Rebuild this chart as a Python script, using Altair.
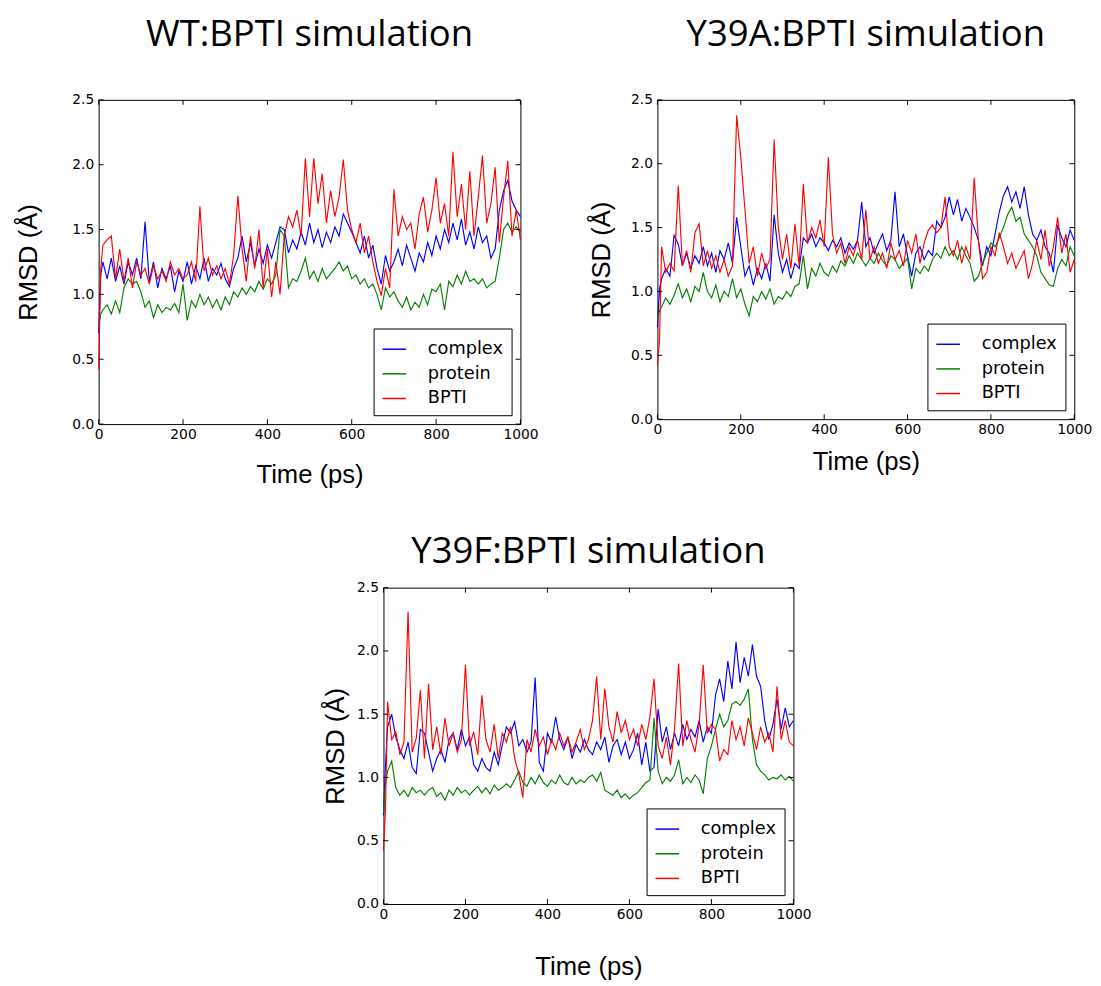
import altair as alt
import pandas as pd

# ---------------- data ----------------
TIME = [0, 5] + list(range(10, 1001, 10))
SERIES = ["complex", "protein", "BPTI"]
COLORS = ["#0000ff", "#008000", "#ff0000"]
X_TICKS = [0, 200, 400, 600, 800, 1000]
Y_TICKS = [0.0, 0.5, 1.0, 1.5, 2.0, 2.5]
TITLES = ["WT:BPTI simulation", "Y39A:BPTI simulation", "Y39F:BPTI simulation"]

WT_COMPLEX = [0.70, 1.15,
    1.25, 1.12, 1.28, 1.10, 1.22, 1.08, 1.25, 1.15, 1.28, 1.12,
    1.56, 1.10, 1.25, 1.05, 1.20, 1.12, 1.22, 1.02, 1.18, 1.10,
    1.25, 1.08, 1.22, 1.12, 1.28, 1.10, 1.20, 1.15, 1.24, 1.12,
    1.06, 1.20, 1.28, 1.45, 1.25, 1.40, 1.22, 1.35, 1.24, 1.38,
    1.28, 1.40, 1.52, 1.50, 1.32, 1.42, 1.35, 1.48, 1.38, 1.55,
    1.40, 1.50, 1.36, 1.48, 1.40, 1.52, 1.45, 1.62, 1.55, 1.48,
    1.40, 1.32, 1.45, 1.28, 1.38, 1.20, 1.08, 1.30, 1.18, 1.25,
    1.35, 1.22, 1.38, 1.28, 1.18, 1.32, 1.25, 1.40, 1.30, 1.45,
    1.35, 1.50, 1.40, 1.55, 1.42, 1.58, 1.38, 1.48, 1.35, 1.52,
    1.40, 1.45, 1.28, 1.35, 1.65, 1.80, 1.88, 1.72, 1.65, 1.60]
WT_PROTEIN = [0.75, 0.85,
    0.88, 0.92, 0.85, 0.95, 0.86, 1.05, 1.12, 1.08, 1.10, 1.02,
    0.90, 0.95, 0.82, 0.92, 0.86, 0.90, 0.88, 0.93, 0.86, 1.08,
    0.80, 0.95, 0.90, 1.00, 0.92, 0.98, 0.90, 0.96, 0.88, 0.98,
    0.92, 1.02, 0.98, 1.05, 1.00, 1.06, 1.02, 1.10, 1.04, 1.12,
    1.08, 1.15, 1.50, 1.45, 1.05, 1.12, 1.10, 1.18, 1.28, 1.12,
    1.18, 1.10, 1.20, 1.12, 1.16, 1.20, 1.25, 1.18, 1.22, 1.12,
    1.15, 1.08, 1.12, 1.05, 1.08, 1.00, 0.88, 1.05, 0.98, 1.02,
    0.95, 0.90, 0.98, 0.88, 0.94, 0.90, 1.00, 0.92, 1.04, 1.02,
    1.08, 0.88, 1.10, 1.06, 1.15, 1.08, 1.18, 1.10, 1.12, 1.08,
    1.12, 1.05, 1.08, 1.10, 1.28, 1.50, 1.55, 1.48, 1.52, 1.48]
WT_BPTI = [0.42, 1.20,
    1.38, 1.42, 1.45, 1.12, 1.35, 1.10, 1.28, 1.05, 1.25, 1.15,
    1.20, 1.08, 1.22, 1.12, 1.18, 1.10, 1.25, 1.15, 1.20, 1.12,
    1.15, 1.25, 1.10, 1.68, 1.18, 1.28, 1.15, 1.22, 1.12, 1.20,
    1.08, 1.30, 1.76, 1.35, 1.10, 1.45, 1.20, 1.50, 1.05, 1.35,
    0.98, 1.25, 1.00, 1.45, 1.60, 1.52, 1.65, 1.45, 2.05, 1.60,
    2.05, 1.70, 1.93, 1.55, 1.80, 1.60, 1.75, 2.04, 1.65, 1.50,
    1.40, 1.55, 1.32, 1.45, 1.25, 1.10, 0.99, 1.20, 1.05, 1.81,
    1.45, 1.60, 1.50, 1.55, 1.35, 1.62, 1.75, 1.48, 1.65, 1.90,
    1.55, 1.70, 1.45, 2.10, 1.60, 1.85, 1.50, 1.95, 1.45, 1.75,
    2.07, 1.55, 1.70, 1.98, 1.40, 1.75, 2.03, 1.45, 1.65, 1.42]

Y39A_COMPLEX = [0.72, 1.02,
    1.10, 1.18, 1.12, 1.44, 1.37, 1.20, 1.30, 1.18, 1.28, 1.22,
    1.35, 1.20, 1.30, 1.15, 1.32, 1.25, 1.38, 1.22, 1.58, 1.35,
    1.12, 1.20, 1.05, 1.18, 1.10, 1.22, 1.08, 1.60, 1.30, 1.15,
    1.25, 1.10, 1.22, 1.18, 1.42, 1.38, 1.45, 1.35, 1.42, 1.38,
    1.32, 1.40, 1.35, 1.42, 1.30, 1.38, 1.33, 1.40, 1.70, 1.35,
    1.42, 1.30, 1.38, 1.45, 1.32, 1.40, 1.78, 1.35, 1.45, 1.28,
    1.12, 1.30, 1.35, 1.25, 1.32, 1.28, 1.55, 1.50, 1.58, 1.74,
    1.60, 1.72, 1.55, 1.65, 1.58, 1.50, 1.40, 1.20, 1.35, 1.28,
    1.45, 1.62, 1.75, 1.82, 1.70, 1.78, 1.65, 1.82, 1.60, 1.45,
    1.40, 1.48, 1.35, 1.30, 1.15, 1.52, 1.42, 1.35, 1.48, 1.40]
Y39A_PROTEIN = [0.78, 0.85,
    0.88, 0.95, 0.90, 0.97, 1.06, 0.95, 1.02, 0.92, 1.04, 1.00,
    1.15, 1.00, 0.95, 1.05, 0.92, 1.00, 0.96, 1.10, 0.95, 1.02,
    0.90, 0.81, 0.96, 0.92, 1.00, 0.94, 1.02, 0.90, 0.96, 0.94,
    1.00, 0.96, 1.04, 1.06, 1.28, 1.02, 1.18, 1.12, 1.22, 1.15,
    1.12, 1.20, 1.15, 1.24, 1.20, 1.28, 1.22, 1.30, 1.25, 1.20,
    1.26, 1.22, 1.30, 1.24, 1.20, 1.28, 1.25, 1.18, 1.22, 1.26,
    1.02, 1.18, 1.14, 1.20, 1.16, 1.25, 1.30, 1.26, 1.35, 1.28,
    1.32, 1.25, 1.35, 1.28, 1.22, 1.08, 1.12, 1.22, 1.30, 1.38,
    1.35, 1.42, 1.50, 1.60, 1.66, 1.55, 1.58, 1.45, 1.40, 1.35,
    1.28, 1.15, 1.10, 1.05, 1.04, 1.18, 1.25, 1.20, 1.35, 1.28]
Y39A_BPTI = [0.42, 0.62,
    1.35, 1.15, 1.22, 1.16, 1.83, 1.20, 1.32, 1.15, 1.46, 1.53,
    1.20, 1.32, 1.18, 1.28, 1.15, 1.25, 1.12, 1.20, 2.38, 2.05,
    1.64, 1.22, 1.35, 1.12, 1.30, 1.18, 1.25, 2.19, 1.50, 1.25,
    1.45, 1.18, 1.53, 1.20, 1.84, 1.38, 1.50, 1.42, 1.56, 1.35,
    2.05, 1.45, 1.30, 1.38, 1.22, 1.35, 1.28, 1.40, 1.25, 1.64,
    1.25, 1.35, 1.22, 1.30, 1.18, 1.38, 1.25, 1.32, 1.20, 1.40,
    1.30, 1.45, 1.22, 1.38, 1.48, 1.52, 1.46, 1.50, 1.74, 1.35,
    1.28, 1.40, 1.22, 1.35, 1.25, 1.89, 1.40, 1.10, 1.15, 1.35,
    1.28, 1.46, 1.35, 1.22, 1.30, 1.18, 1.25, 1.32, 1.10, 1.22,
    1.40, 1.25, 1.48, 1.20, 1.35, 1.58, 1.30, 1.45, 1.15, 1.25]

Y39F_COMPLEX = [0.70, 1.10,
    1.40, 1.50, 1.32, 1.22, 1.15, 1.28, 1.08, 1.03, 1.38, 1.35,
    1.20, 1.05, 1.15, 1.22, 1.12, 1.30, 1.35, 1.22, 1.38, 1.25,
    1.32, 1.10, 1.05, 1.15, 1.08, 1.05, 1.20, 1.10, 1.26, 1.40,
    1.35, 1.44, 1.25, 1.30, 1.20, 1.28, 1.79, 1.12, 1.05, 1.35,
    1.28, 1.48, 1.30, 1.22, 1.32, 1.15, 1.26, 1.20, 1.30, 1.22,
    1.18, 1.28, 1.22, 1.32, 1.12, 1.25, 1.30, 1.18, 1.28, 1.15,
    1.22, 1.35, 1.10, 1.28, 1.05, 1.08, 1.54, 1.28, 1.40, 1.22,
    1.35, 1.25, 1.42, 1.30, 1.38, 1.32, 1.45, 1.28, 1.40, 1.35,
    1.65, 1.78, 1.60, 1.92, 1.70, 2.07, 1.75, 1.95, 1.80, 2.05,
    1.80, 1.72, 1.45, 1.30, 1.42, 1.62, 1.38, 1.55, 1.40, 1.45]
Y39F_PROTEIN = [0.72, 0.95,
    1.05, 1.13, 0.92, 0.86, 0.90, 0.85, 0.92, 0.88, 0.90, 0.86,
    0.90, 0.92, 0.85, 0.88, 0.82, 0.90, 0.86, 0.92, 0.88, 0.90,
    0.86, 0.90, 0.93, 0.88, 0.92, 0.87, 0.94, 0.90, 0.92, 0.95,
    0.92, 0.98, 1.05, 0.96, 0.93, 1.00, 0.95, 1.02, 0.96, 0.93,
    0.98, 0.95, 1.02, 0.96, 0.94, 1.00, 0.95, 0.98, 0.96, 1.00,
    1.02, 0.97, 1.04, 0.90, 0.88, 0.86, 0.90, 0.84, 0.87, 0.83,
    0.86, 0.88, 0.92, 0.96, 0.98, 1.47, 1.05, 0.95, 1.00, 0.97,
    1.02, 1.14, 0.95, 1.00, 0.96, 1.02, 0.98, 0.87, 1.15, 1.25,
    1.38, 1.50, 1.40, 1.45, 1.58, 1.60, 1.57, 1.62, 1.70, 1.30,
    1.10, 1.05, 1.02, 0.98, 1.00, 0.99, 1.02, 0.98, 1.01, 0.97]
Y39F_BPTI = [0.42, 0.75,
    1.60, 1.30, 1.36, 1.18, 1.28, 2.31, 1.20, 1.31, 1.69, 1.15,
    1.74, 1.22, 1.40, 1.18, 1.47, 1.25, 1.35, 1.20, 1.30, 1.89,
    1.25, 1.36, 1.18, 1.65, 1.30, 1.20, 1.42, 1.15, 1.35, 1.28,
    1.40, 1.15, 1.03, 0.84, 1.30, 1.20, 1.38, 1.25, 1.32, 1.18,
    1.30, 1.22, 1.35, 1.25, 1.32, 1.20, 1.28, 1.38, 1.22, 1.30,
    1.45, 1.80, 1.30, 1.70, 1.40, 1.28, 1.52, 1.35, 1.45, 1.30,
    1.38, 1.25, 1.42, 1.30, 1.48, 1.78, 1.25, 1.15, 1.32, 1.10,
    1.38, 1.90, 1.25, 1.45, 1.30, 1.20, 1.42, 1.89, 1.35, 1.42,
    1.38, 1.13, 1.22, 1.18, 1.45, 1.30, 1.40, 1.25, 1.47, 1.35,
    1.22, 1.40, 1.28, 1.35, 1.20, 1.72, 1.30, 1.45, 1.28, 1.25]


def panel(title, series_vals, w, h, title_offset, ytitle_pad, xtitle_pad):
    rows = []
    for name, vals in zip(SERIES, series_vals):
        for t, v in zip(TIME, vals):
            rows.append({"time": t, "rmsd": v, "series": name})
    df = pd.DataFrame(rows)
    xs = alt.Scale(domain=[0, 1000], nice=False, zero=False)
    ys = alt.Scale(domain=[0, 2.5], nice=False, zero=False)
    x_axis = alt.Axis(title="Time (ps)", values=X_TICKS, format="d", labelFlush=False,
                      labelPadding=4, titlePadding=xtitle_pad, labelOverlap=False)
    y_axis = alt.Axis(title="RMSD (Å)", values=Y_TICKS, format=".1f", labelFlush=False,
                      labelPadding=5, titlePadding=ytitle_pad, labelOverlap=False)

    lines = alt.Chart(df).mark_line(strokeWidth=1.15).encode(
        x=alt.X("time:Q", scale=xs, axis=x_axis),
        y=alt.Y("rmsd:Q", scale=ys, axis=y_axis),
        color=alt.Color(
            "series:N",
            sort=SERIES,
            scale=alt.Scale(domain=SERIES, range=COLORS),
            legend=alt.Legend(
                title=None, orient="bottom-right", offset=9,
                fillColor="white", strokeColor="black", padding=8,
                symbolType="stroke", symbolSize=576, symbolStrokeWidth=1.5,
                labelFont="DejaVu Sans", labelFontSize=18, labelColor="black",
                labelOffset=21, rowPadding=3, cornerRadius=0, labelLimit=200,
            ),
        ),
    )

    xt = pd.DataFrame({"time": X_TICKS})
    yt = pd.DataFrame({"rmsd": Y_TICKS})
    tk = 5
    bottom = alt.Chart(xt).mark_rule(color="black", strokeWidth=1).encode(
        x=alt.X("time:Q", scale=xs, axis=x_axis), y=alt.value(h), y2=alt.value(h - tk))
    top = alt.Chart(xt).mark_rule(color="black", strokeWidth=1).encode(
        x=alt.X("time:Q", scale=xs, axis=x_axis), y=alt.value(0), y2=alt.value(tk))
    left = alt.Chart(yt).mark_rule(color="black", strokeWidth=1).encode(
        y=alt.Y("rmsd:Q", scale=ys, axis=y_axis), x=alt.value(0), x2=alt.value(tk))
    right = alt.Chart(yt).mark_rule(color="black", strokeWidth=1).encode(
        y=alt.Y("rmsd:Q", scale=ys, axis=y_axis), x=alt.value(w), x2=alt.value(w - tk))

    return alt.layer(lines, bottom, top, left, right).properties(
        width=w, height=h,
        title=alt.Title(title, offset=title_offset),
    )


p1 = panel(TITLES[0], [WT_COMPLEX, WT_PROTEIN, WT_BPTI], 428, 329, 40, 31, 20)
p2 = panel(TITLES[1], [Y39A_COMPLEX, Y39A_PROTEIN, Y39A_BPTI], 423, 324, 40, 16, 12)
p3 = panel(TITLES[2], [Y39F_COMPLEX, Y39F_PROTEIN, Y39F_BPTI], 416, 321, 10, 8, 33)

spacer = alt.Chart(pd.DataFrame({"a": [0]})).mark_point(opacity=0).properties(
    width=227, height=10, view=alt.ViewBackground(strokeWidth=0, stroke=None))

top_row = alt.hconcat(p1, p2, spacing=50).resolve_scale(color="independent").resolve_legend(color="independent")
bottom_row = alt.hconcat(spacer, p3, spacing=0).resolve_scale(color="independent").resolve_legend(color="independent")

chart = alt.vconcat(top_row, bottom_row, spacing=45).resolve_scale(
    color="independent"
).resolve_legend(
    color="independent"
).properties(
    padding={"left": 7, "top": 0, "right": 0, "bottom": 0}
).configure_view(
    stroke="black", strokeWidth=1
).configure_title(
    font="Open Sans", fontSize=37, fontWeight="normal", color="black", anchor="middle"
).configure_axis(
    labelFont="DejaVu Sans", labelFontSize=14, labelColor="black",
    titleFont="Liberation Sans", titleFontSize=26, titleFontWeight="normal", titleColor="black",
    domain=False, ticks=False, grid=False
)

chart.save("out.html", embed_options={"renderer": "svg", "actions": False})
